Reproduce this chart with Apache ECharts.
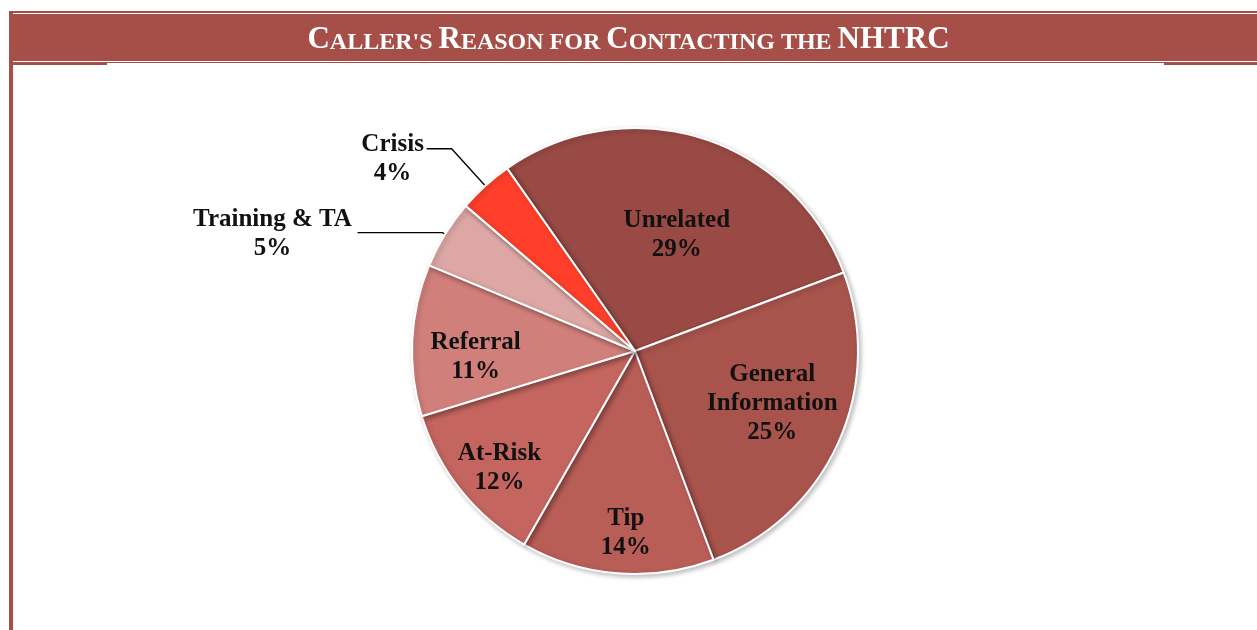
<!DOCTYPE html>
<html>
<head>
<meta charset="utf-8">
<title>Caller's Reason for Contacting the NHTRC</title>
<script src="https://cdn.jsdelivr.net/npm/echarts@6/dist/echarts.min.js"></script>
<style>
    html, body { margin: 0; padding: 0; background: #fff; }
    #chart { width: 1257px; height: 630px; }
</style>
</head>
<body>
<div id="chart"></div>
<script>
    // slices in clockwise order, starting from the top
    const categories = ['Unrelated', 'General\nInformation', 'Tip', 'At-Risk', 'Referral', 'Training & TA', 'Crisis'];
    const shares = [29, 25, 14, 12, 11, 5, 4];
    const sliceColors = ['#994a45', '#a8534c', '#b95d57', '#c4655f', '#d17f7a', '#dca7a4', '#ff3f2a'];

    const band = '#a64f49';
    const serif = '"Liberation Serif", "Times New Roman", serif';

    // label nudges for the inside labels, outside leader settings for the small ones
    const insideOffsets = [[8, -7], [33, 5], [0, 68], [-46, 46], [-45, 12]];
    const outsideLabels = {
        5: { width: 166, length: 3, length2: 85, padTop: 3 },
        6: { width: 64, length: 50, length2: 25, padTop: 20 }
    };

    const pieData = categories.map((name, i) => {
        const item = { name: name, value: shares[i], itemStyle: { color: sliceColors[i] } };
        if (outsideLabels[i]) {
            const o = outsideLabels[i];
            item.label = {
                position: 'outside',
                padding: [o.padTop, 0, 0, 0],
                distanceToLabelLine: 2,
                formatter: '{o|{b}}\n{o|{c}%}',
                rich: {
                    o: { width: o.width, align: 'center', fontFamily: serif, fontWeight: 'bold', fontSize: 25, lineHeight: 29, color: '#111' }
                }
            };
            item.labelLine = { show: true, length: o.length, length2: o.length2, lineStyle: { color: '#000', width: 1.3 } };
        } else {
            item.label = { position: 'inside', offset: insideOffsets[i] };
            item.labelLine = { show: false };
        }
        return item;
    });

    const chart = echarts.init(document.getElementById('chart'));
    chart.setOption({
        animation: false,
        title: {
            text: '{b|C}{s|ALLER\'S }{b|R}{s|EASON FOR }{b|C}{s|ONTACTING THE }{b|NHTRC}',
            left: 'center',
            top: 18,
            textStyle: {
                rich: {
                    b: { fontFamily: serif, fontWeight: 'bold', fontSize: 31, color: '#fff', lineHeight: 32, verticalAlign: 'bottom' },
                    s: { fontFamily: serif, fontWeight: 'bold', fontSize: 24, color: '#fff', lineHeight: 32, verticalAlign: 'bottom' }
                }
            }
        },
        graphic: [
            { type: 'rect', shape: { x: 9, y: 11, width: 1248, height: 52 }, style: { fill: band }, z: -1 },
            { type: 'rect', shape: { x: 9, y: 13, width: 1248, height: 1 }, style: { fill: '#fff' }, z: -1 },
            { type: 'rect', shape: { x: 9, y: 61, width: 1248, height: 1 }, style: { fill: '#fff' }, z: -1 },
            { type: 'rect', shape: { x: 9, y: 63, width: 98, height: 2 }, style: { fill: band }, z: -1 },
            { type: 'rect', shape: { x: 1164, y: 63, width: 93, height: 2 }, style: { fill: band }, z: -1 },
            { type: 'rect', shape: { x: 9, y: 11, width: 4, height: 619 }, style: { fill: band }, z: -1 }
        ],
        series: [{
            type: 'pie',
            center: [635, 351],
            radius: 223,
            startAngle: 125,
            clockwise: true,
            avoidLabelOverlap: false,
            itemStyle: {
                borderColor: '#fff',
                borderWidth: 2,
                shadowBlur: 5,
                shadowOffsetX: 2,
                shadowOffsetY: 2,
                shadowColor: 'rgba(0,0,0,0.25)'
            },
            label: {
                fontFamily: serif,
                fontWeight: 'bold',
                fontSize: 25,
                lineHeight: 29,
                color: '#111',
                formatter: '{b}\n{c}%'
            },
            emphasis: { disabled: true },
            data: pieData
        }]
    });
</script>
</body>
</html>
